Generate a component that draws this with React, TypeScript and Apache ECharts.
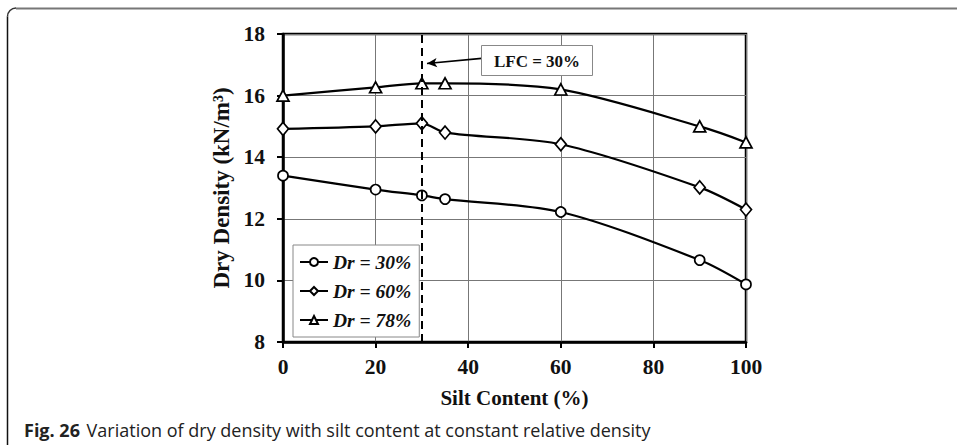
import React, { useEffect, useRef } from "react";
import * as echarts from "echarts";

const silt = [0, 20, 30, 35, 60, 90, 100];
const dr30 = [13.4, 12.95, 12.76, 12.64, 12.22, 10.66, 9.87];
const dr60 = [14.92, 15.0, 15.1, 14.8, 14.42, 13.02, 12.3];
const dr78 = [16.0, 16.27, 16.4, 16.4, 16.2, 15.0, 14.48];
const seriesNames = ["Dr = 30%", "Dr = 60%", "Dr = 78%"];
const lfc = 30;
const arrowFrom = [42.9, 17.21];
const arrowTo = [31.1, 17.04];

const SERIF = "'Liberation Serif', 'Times New Roman', serif";

export default function App() {
  const ref = useRef<HTMLDivElement>(null);
  useEffect(() => {
    const chart = echarts.init(ref.current!, null, { renderer: "svg" });
    const mk = (name: string, vals: number[], symbol: string, size: number | number[]) => ({
      name,
      type: "line",
      data: silt.map((x, i) => [x, vals[i]]),
      smooth: 0.3,
      symbol,
      symbolSize: size,
      showSymbol: true,
      lineStyle: { color: "#000", width: 2.2 },
      itemStyle: { color: "#fff", borderColor: "#000", borderWidth: 1.7 },
      z: 3,
    });
    chart.setOption({
      animation: false,
      backgroundColor: "#fff",
      grid: {
        left: 283,
        right: 211,
        top: 34,
        bottom: 106,
        show: true,
        borderColor: "#000",
        borderWidth: 2.5,
      },
      xAxis: {
        type: "value",
        min: 0,
        max: 100,
        interval: 20,
        name: "Silt Content (%)",
        nameLocation: "middle",
        nameGap: 45,
        nameTextStyle: { fontFamily: SERIF, fontWeight: "bold", fontSize: 21, color: "#111" },
        axisLine: { show: true, onZero: false, lineStyle: { color: "#000", width: 2.5 } },
        axisTick: { show: true, inside: false, length: 6, lineStyle: { color: "#000", width: 2 } },
        axisLabel: { margin: 14, fontFamily: SERIF, fontWeight: "bold", fontSize: 21.5, color: "#111" },
        splitLine: { show: true, lineStyle: { color: "#777", width: 1 } },
      },
      yAxis: {
        type: "value",
        min: 8,
        max: 18,
        interval: 2,
        name: "Dry Density (kN/m³)",
        nameLocation: "middle",
        nameGap: 50,
        nameTextStyle: { fontFamily: SERIF, fontWeight: "bold", fontSize: 23, color: "#111" },
        axisLine: { show: true, lineStyle: { color: "#000", width: 2.5 } },
        axisTick: { show: true, inside: false, length: 6, lineStyle: { color: "#000", width: 2 } },
        axisLabel: { margin: 18, fontFamily: SERIF, fontWeight: "bold", fontSize: 21.5, color: "#111" },
        splitLine: { show: true, lineStyle: { color: "#777", width: 1 } },
      },
      legend: {
        data: seriesNames,
        orient: "vertical",
        left: 293,
        top: 245,
        padding: [7, 8, 7, 6],
        itemGap: 9,
        itemWidth: 28,
        itemHeight: 10,
        backgroundColor: "#fff",
        borderColor: "#888",
        borderWidth: 1,
        textStyle: {
          fontFamily: SERIF,
          fontWeight: "bold",
          fontStyle: "italic",
          fontSize: 19.5,
          color: "#111",
        },
      },
      series: [
        mk(seriesNames[0], dr30, "circle", 10),
        mk(seriesNames[1], dr60, "diamond", [11, 13]),
        mk(seriesNames[2], dr78, "triangle", [12, 11]),
        {
          name: "annot",
          type: "line",
          data: [],
          markLine: {
            silent: true,
            animation: false,
            label: { show: false },
            data: [
              [
                { coord: [lfc, 8], symbol: "none" },
                { coord: [lfc, 18], symbol: "none", lineStyle: { color: "#000", width: 2, type: [8, 5] } },
              ],
              [
                { coord: arrowTo, symbol: "arrow", symbolSize: [7, 10] },
                { coord: arrowFrom, symbol: "none", lineStyle: { color: "#000", width: 1.6, type: "solid" } },
              ],
            ],
            lineStyle: { color: "#000", width: 2, type: [8, 5] },
            itemStyle: { color: "#000" },
          },
        },
      ],
      graphic: [
        {
          type: "rect",
          shape: { x: 481.5, y: 45.5, width: 111, height: 30 },
          style: { fill: "#fff", stroke: "#888", lineWidth: 1 },
          z: 10,
        },
        {
          type: "text",
          x: 537,
          y: 61,
          style: {
            text: "LFC = 30%",
            fontFamily: SERIF,
            fontWeight: "bold",
            fontSize: 17,
            fill: "#111",
            align: "center",
            verticalAlign: "middle",
          },
          z: 11,
        },
        {
          type: "line",
          shape: { x1: 16, y1: 8.5, x2: 957, y2: 8.5 },
          style: { stroke: "#777", lineWidth: 2 },
        },
        {
          type: "arc",
          shape: { cx: 16, cy: 16.5, r: 8.5, startAngle: Math.PI, endAngle: Math.PI * 1.5 },
          style: { stroke: "#333", lineWidth: 1.5, fill: "none" },
        },
        {
          type: "line",
          shape: { x1: 7.5, y1: 16.5, x2: 7.5, y2: 445 },
          style: { stroke: "#111", lineWidth: 1.5 },
        },
        {
          type: "text",
          x: 24,
          y: 430,
          style: {
            text: "{b|Fig. 26}  {r|Variation of dry density with silt content at constant relative density}",
            verticalAlign: "middle",
            rich: {
              b: { fontFamily: "'Open Sans', 'Noto Sans', sans-serif", fontWeight: "bold", fontSize: 18, fill: "#222" },
              r: { fontFamily: "'Open Sans', 'Noto Sans', sans-serif", fontSize: 18, fill: "#222" },
            },
          },
        },
      ],
    });
    return () => chart.dispose();
  }, []);
  return <div ref={ref} style={{ width: 957, height: 448, position: "absolute", left: 0, top: 0 }} />;
}
